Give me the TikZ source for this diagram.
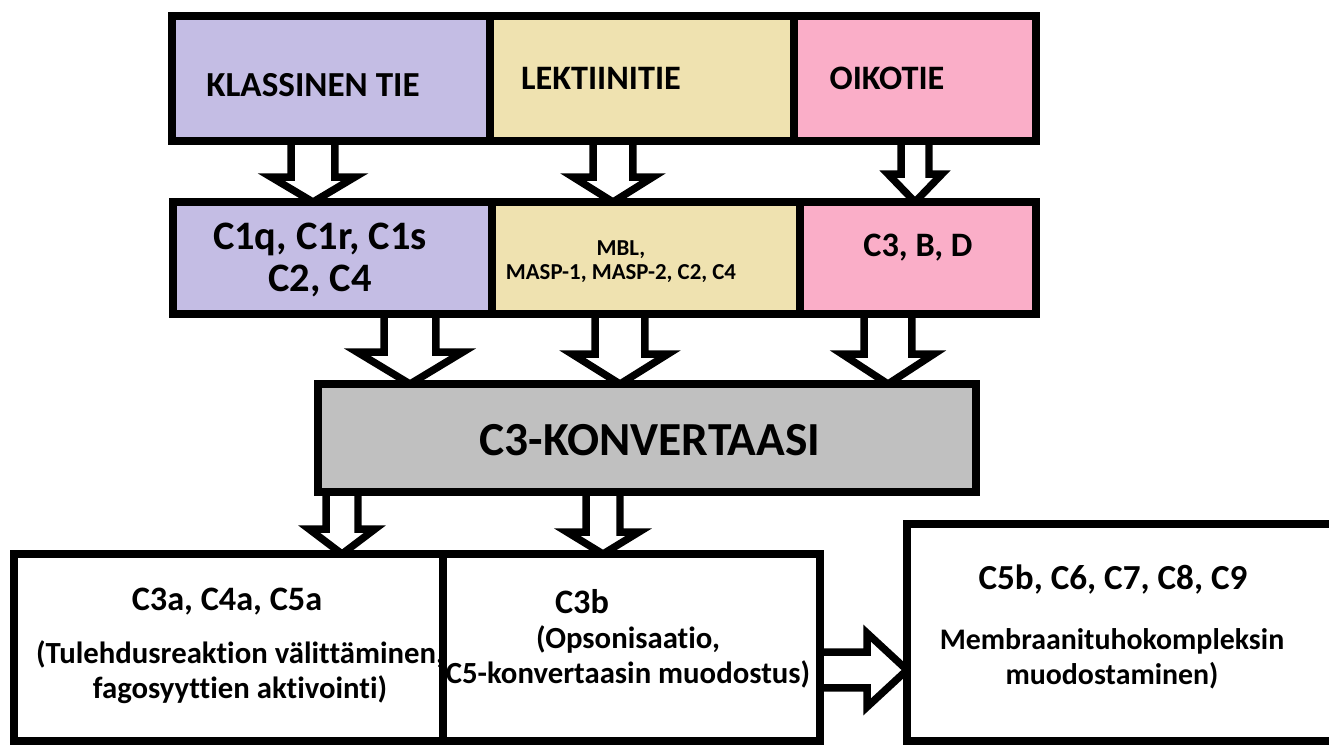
\documentclass[tikz,border=0pt]{standalone}
\usepackage{fontspec}
\setmainfont{Carlito}[Ligatures=NoCommon]
\usepackage{tikz}
\usetikzlibrary{calc,fit,backgrounds}

\definecolor{violetti}{RGB}{196,189,228}
\definecolor{beige}{RGB}{239,226,176}
\definecolor{pinkki}{RGB}{250,174,200}
\definecolor{harmaa}{RGB}{192,192,192}

\tikzset{
    box/.style={draw, line width=4.5pt, inner sep=0pt, outer sep=0pt},
    blockarrow/.style={draw, fill=white, line width=4.2pt, line join=miter},
    lbl/.style={font=\bfseries\fontsize{19.5}{23}\selectfont, align=center},
    iso/.style={font=\bfseries\fontsize{23}{23.5}\selectfont, align=center},
    pieni/.style={font=\bfseries\fontsize{13}{13.6}\selectfont, align=center},
    selitys/.style={font=\bfseries\fontsize{17.5}{20}\selectfont, align=center},
}

% 1 px of the picture
\def\px{0.567pt}

% hollow arrow downwards: x, from, to, shaft, head, head length
\newcommand{\alasnuoli}[6]{
    \draw[blockarrow] let \p1=(#1,0 |- #2.south), \p2=(#1,0 |- #3.north) in
        (\x1-#4*\px, \y1) -- (\x1-#4*\px, \y2+#6*\px) -- (\x1-#5*\px, \y2+#6*\px)
        -- (\x1, \y2) -- (\x1+#5*\px, \y2+#6*\px) -- (\x1+#4*\px, \y2+#6*\px)
        -- (\x1+#4*\px, \y1);
}
% hollow arrow to the right: y, from, to, shaft, head, head length
\newcommand{\oikeanuoli}[6]{
    \draw[blockarrow] let \p1=(#2.east |- 0,#1), \p2=(#3.west |- 0,#1) in
        (\x1, \y1+#4*\px) -- (\x2-#6*\px, \y1+#4*\px) -- (\x2-#6*\px, \y1+#5*\px)
        -- (\x2, \y1) -- (\x2-#6*\px, \y1-#5*\px) -- (\x2-#6*\px, \y1-#4*\px)
        -- (\x1, \y1-#4*\px);
}

\begin{document}
\begin{tikzpicture}[x=0.02cm, y=-0.02cm]
    \useasboundingbox (0,0) rectangle (1329,747);

    % Pathways
    \node[box, fill=violetti, fit={(172,16) (490,141)}] (klass) {};
    \node[box, fill=beige, fit={(490,16) (794,141)}] (lekt) {};
    \node[box, fill=pinkki, fit={(794,16) (1036,141)}] (oiko) {};
    \node[lbl, font=\bfseries\fontsize{20}{23}\selectfont] (tklass) at (313,85) {KLASSINEN TIE};
    \node[lbl] (tlekt) at (601,78) {LEKTIINITIE};
    \node[lbl] (toiko) at (887,78) {OIKOTIE};

    % Components
    \node[box, fill=violetti, fit={(173,202) (492,314)}] (klass2) {};
    \node[box, fill=beige, fit={(492,202) (800,314)}] (lekt2) {};
    \node[box, fill=pinkki, fit={(800,202) (1036,314)}] (oiko2) {};
    \node[iso] (tc1) at (320,260) {C1q, C1r, C1s\\C2, C4};
    \node[pieni] (tmbl) at (621,262) {MBL,\\MASP-1, MASP-2, C2, C4};
    \node[lbl] (tc3bd) at (918,248) {C3, B, D};

    % Convertase
    \node[box, fill=harmaa, fit={(318,384) (976,492)}] (konv) {};
    \node[font=\bfseries\fontsize{27}{30}\selectfont] (tkonv) at (650,440) {C3-KONVERTAASI};

    % Products
    \node[box, fill=white, fit={(14,554) (443,741)}] (c3a) {};
    \node[box, fill=white, fit={(443,554) (820,741)}] (c3b) {};
    \node[box, fill=white, fit={(907,524) (1340,741)}] (mac) {};
    \node[lbl] (tc3a) at (227,602) {C3a, C4a, C5a};
    \node[selitys] (tc3a2) at (240,672) {(Tulehdusreaktion välittäminen,\\fagosyyttien aktivointi)};
    \node[lbl] (tc3b) at (582,602) {C3b};
    \node[selitys] (tc3b2) at (628,657) {(Opsonisaatio,\\C5-konvertaasin muodostus)};
    \node[lbl, font=\bfseries\fontsize{20}{23}\selectfont] (tmac) at (1113,580) {C5b, C6, C7, C8, C9};
    \node[selitys, font=\bfseries\fontsize{17}{20}\selectfont] (tmac2) at (1112,659) {Membraanituhokompleksin\\muodostaminen)};

    % Arrows
    \begin{scope}[on background layer]
        \alasnuoli{313}{klass}{klass2}{22}{42}{25}
        \alasnuoli{613}{lekt}{lekt2}{20}{40}{25}
        \alasnuoli{915}{oiko}{oiko2}{14}{27}{28}
        \alasnuoli{410}{klass2}{konv}{26}{53}{32}
        \alasnuoli{620}{lekt2}{konv}{25}{48}{30}
        \alasnuoli{888}{oiko2}{konv}{24}{46}{30}
        \alasnuoli{342}{konv}{c3a}{16}{33}{25}
        \alasnuoli{603}{konv}{c3b}{17}{36}{22}
        \oikeanuoli{670}{c3b}{mac}{18}{37}{40}
    \end{scope}
\end{tikzpicture}
\end{document}
